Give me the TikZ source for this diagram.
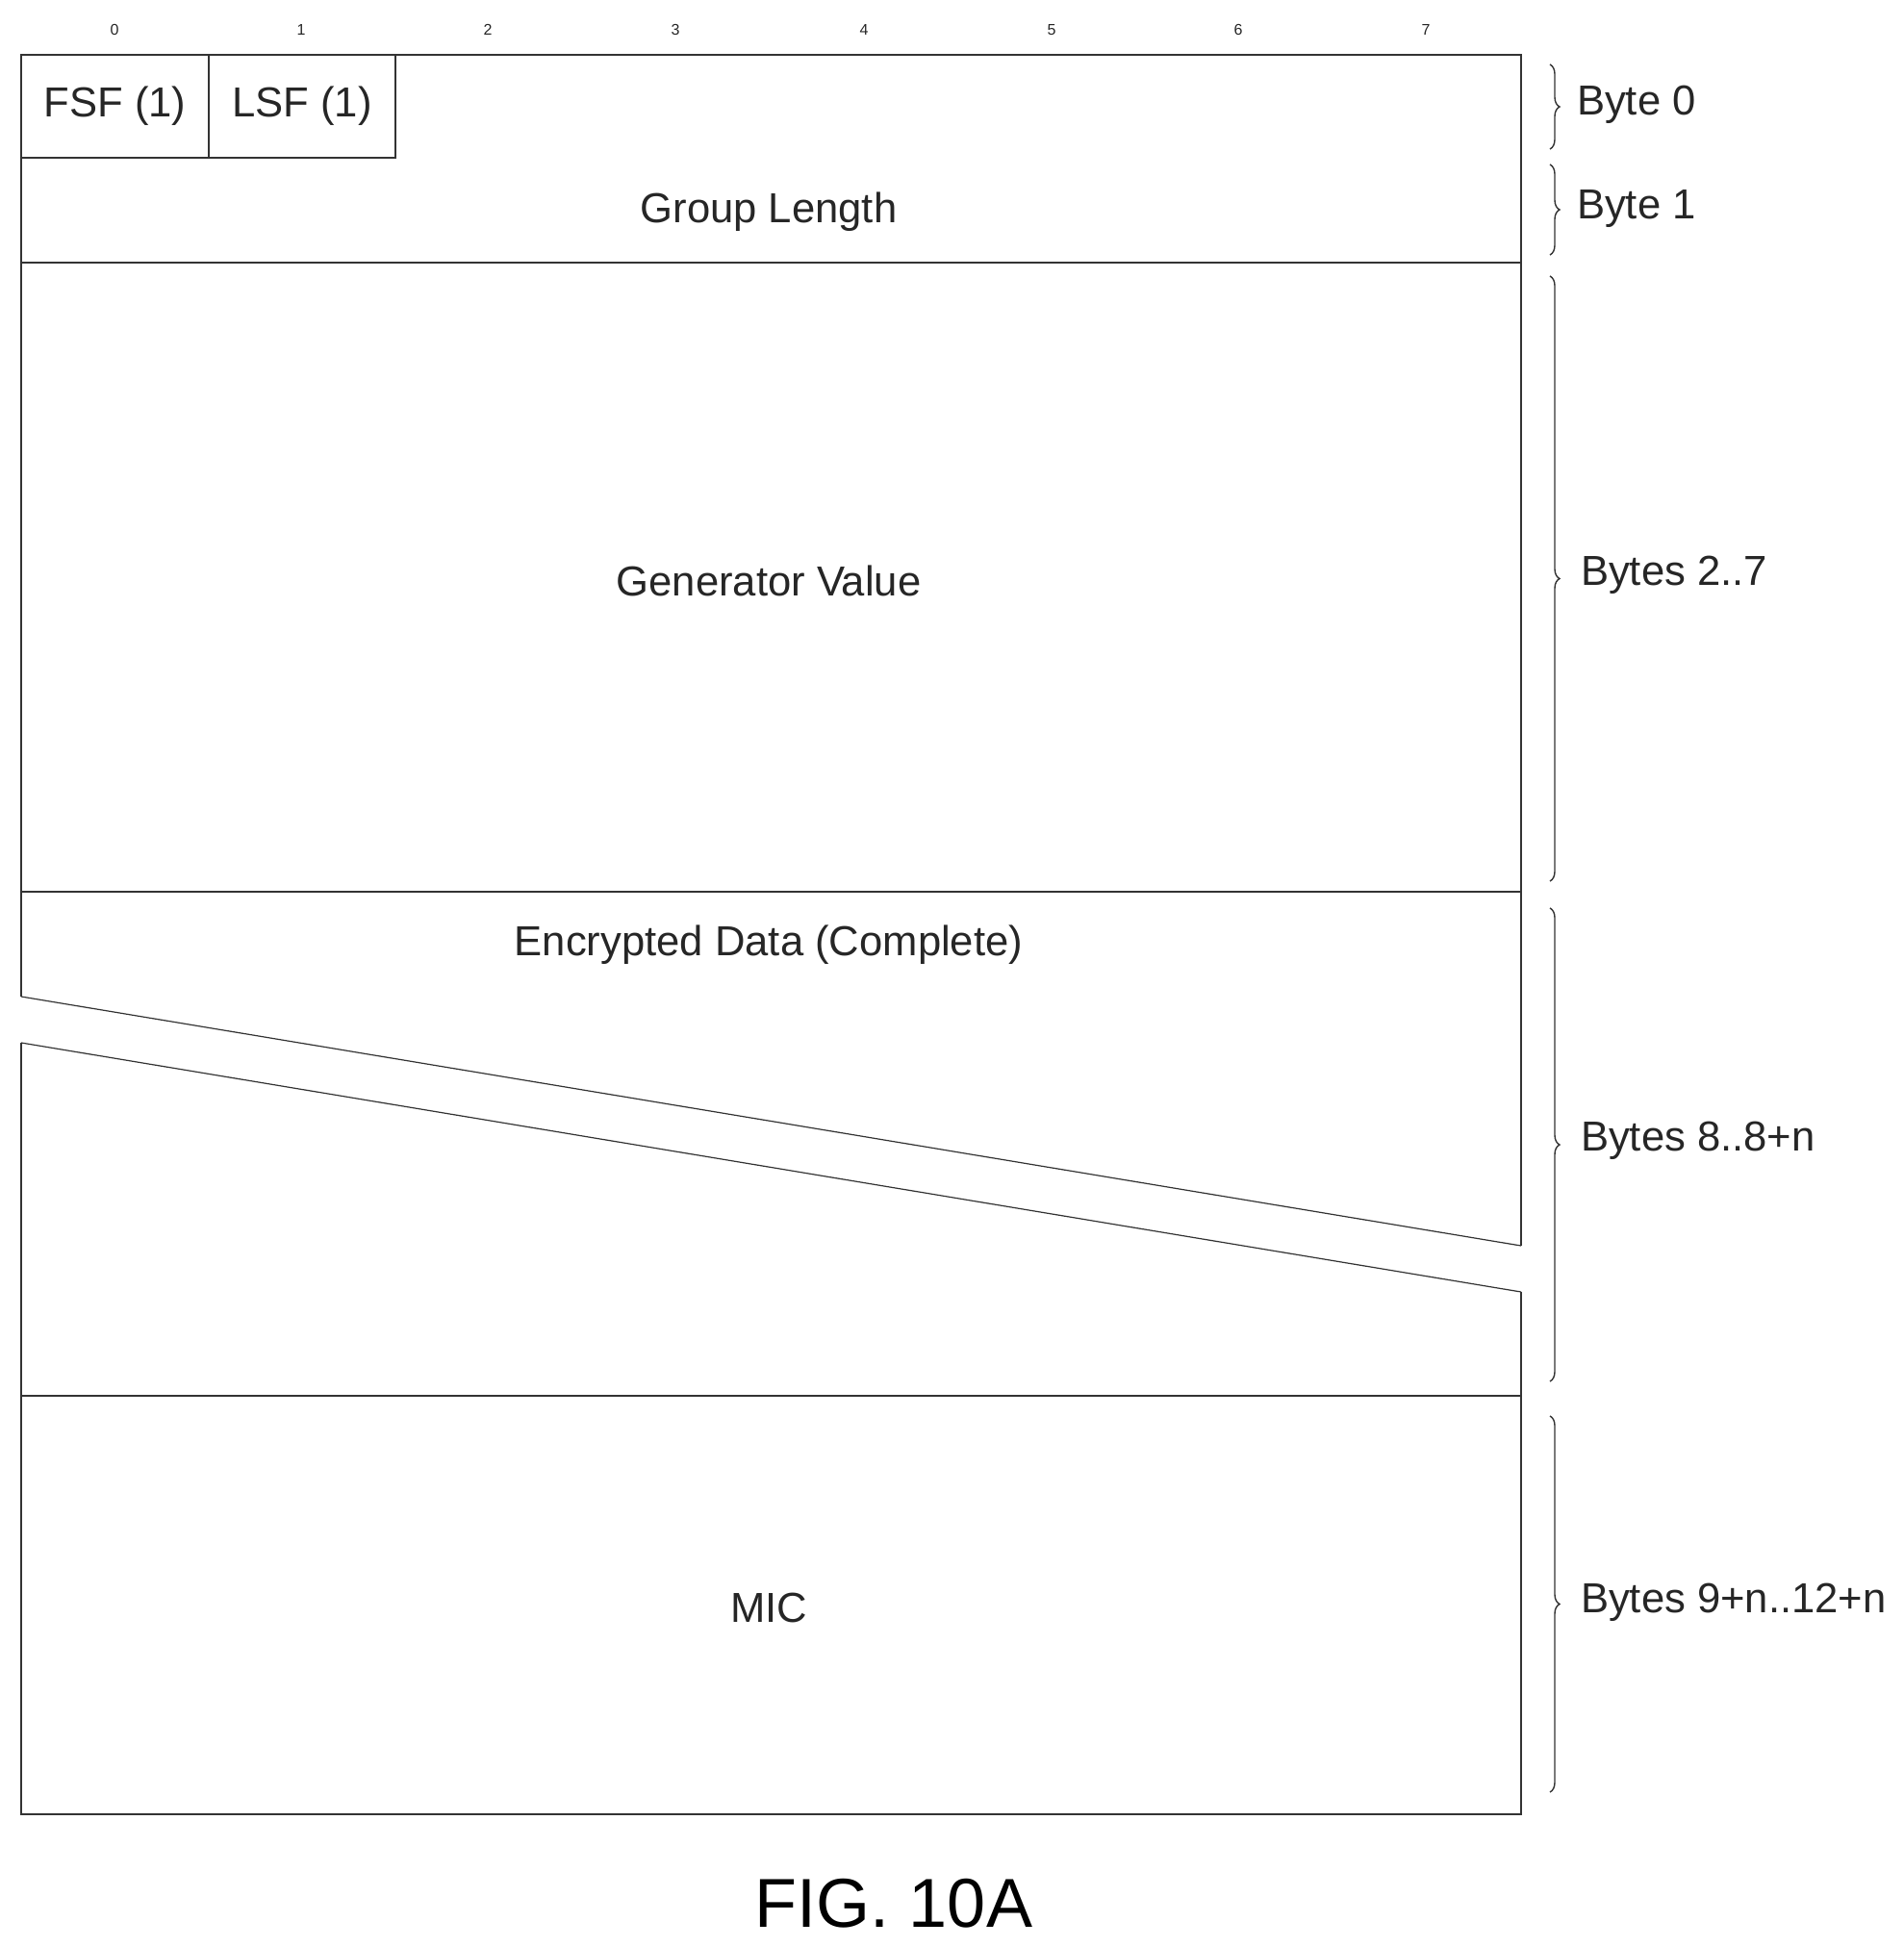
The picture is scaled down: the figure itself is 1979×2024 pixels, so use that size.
\documentclass[tikz,border=0pt]{standalone}
\usepackage{fontspec}
\setmainfont{Liberation Sans}
\usetikzlibrary{decorations.pathreplacing}
\begin{document}
\begin{tikzpicture}[x=0.5pt,y=-0.5pt,
  ln/.style={draw=black!80,line width=0.8pt},
  fld/.style={font=\fontsize{21.8}{24}\selectfont,text=black!85},
  bit/.style={font=\fontsize{8}{9}\selectfont,text=black!85},
  br/.style={draw=black!80,line width=0.7pt,decorate,decoration={brace,amplitude=5pt}},
  blab/.style={font=\fontsize{21.8}{24}\selectfont,anchor=west,text=black!85}]
\useasboundingbox (0,0) rectangle (1979,2024);
% bit numbers
\foreach \x/\n in {119/0,313/1,507/2,702/3,898/4,1093/5,1287/6,1482/7}
  \node[bit] (b\n) at (\x,31) {\n};
% outer frame pieces
\draw[ln] (22,1036) -- (22,57) -- (1581,57) -- (1581,1295);
\draw[ln] (22,1084) -- (22,1886) -- (1581,1886) -- (1581,1343);
\draw[ln] (22,164) -- (411,164) -- (411,57);
\draw[ln] (217,57) -- (217,164);
\draw[ln] (22,273) -- (1581,273);
\draw[ln] (22,927) -- (1581,927);
\draw[ln] (22,1451) -- (1581,1451);
% break lines
\draw[ln,line width=0.6pt] (22,1036) -- (1581,1295);
\draw[ln,line width=0.6pt] (22,1084) -- (1581,1343);
% field labels
\node[fld] (fsf) at (119.5,110) {FSF (1)};
\node[fld] (lsf) at (314,110) {LSF (1)};
\node[fld] (gl) at (799,220) {Group Length};
\node[fld] (gv) at (799,604) {Generator Value};
\node[fld] (ed) at (799,982) {Encrypted Data (Complete)};
\node[fld] (mic) at (799,1671) {MIC};
% braces
\draw[br] (1611,67) -- (1611,155);
\draw[br] (1611,171) -- (1611,265);
\draw[br] (1611,287) -- (1611,916);
\draw[br] (1611,944) -- (1611,1436);
\draw[br] (1611,1472) -- (1611,1863);
\node[blab] (l0) at (1632,109) {Byte 0};
\node[blab] (l1) at (1632,217) {Byte 1};
\node[blab] (l2) at (1636,598) {Bytes 2..7};
\node[blab] (l3) at (1636,1186) {Bytes 8..8+n};
\node[blab] (l4) at (1636,1666) {Bytes 9+n..12+n};
\node[font=\fontsize{36}{40}\selectfont] (fig) at (929,1979) {FIG. 10A};
\end{tikzpicture}
\end{document}
